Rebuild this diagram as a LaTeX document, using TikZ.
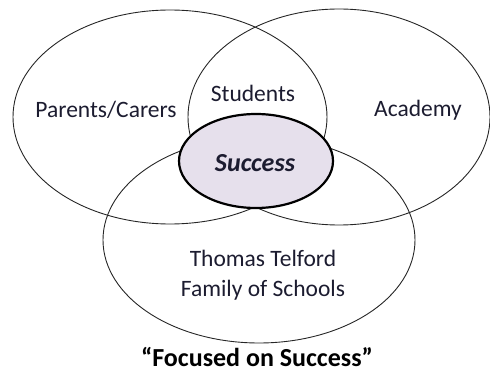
\documentclass[tikz,border=0pt]{standalone}
\usepackage{fontspec}
\setmainfont{Carlito}
\definecolor{lav}{HTML}{E6E0EC}
\definecolor{txt}{HTML}{1C1C30}
\begin{document}
\begin{tikzpicture}[x=1pt,y=-1pt,
  ring/.style={draw=black!85,line width=0.9pt},
  lbl/.style={text=txt,font=\fontsize{23.5}{30}\selectfont,align=center}]
\useasboundingbox (0,0) rectangle (490,374);
\draw[ring] (170,117) ellipse [x radius=157,y radius=107];
\draw[ring] (339,117) ellipse [x radius=151,y radius=108];
\draw[ring] (259,240) ellipse [x radius=156,y radius=103];
\draw[fill=lav,draw=black,line width=2.2pt] (256,161) ellipse [x radius=77,y radius=47];
\node[lbl] (parents) at (106,110) {Parents/Carers};
\node[lbl] (students) at (253,93) {Students};
\node[lbl] (academy) at (418,110) {Academy};
\node[lbl,font=\fontsize{26}{30}\selectfont\bfseries\itshape] (success) at (255,163) {Success};
\node[lbl] (ttf) at (263,275) {Thomas Telford\\Family of Schools};
\node[inner sep=0pt,text height=18pt,text depth=0pt,anchor=base,font=\fontsize{26}{30}\selectfont\bfseries] (focus) at (257,366) {“Focused on Success”};
\end{tikzpicture}
\end{document}
